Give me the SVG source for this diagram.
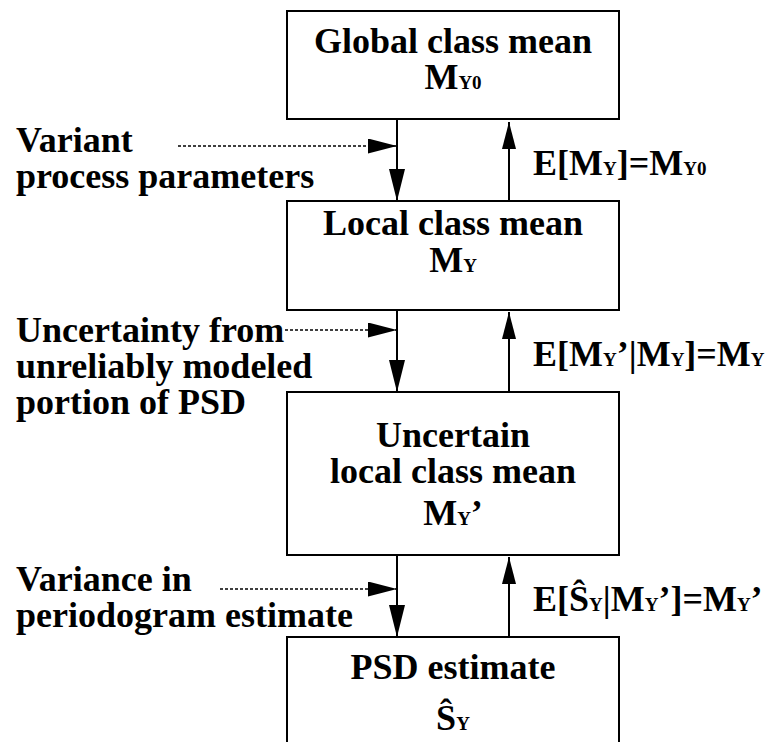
<svg xmlns="http://www.w3.org/2000/svg" width="780" height="742" viewBox="0 0 780 742">
  <style>
    .box { fill: #ffffff; stroke: #000000; stroke-width: 2; }
    .t { font-family: "Liberation Serif", "Times New Roman", serif; font-weight: 700; font-size: 36px; fill: #000000; }
    .c { text-anchor: middle; }
    .sub { font-size: 19px; }
    .solid { stroke: #000000; stroke-width: 2; fill: none; }
    .dot { stroke: #000000; stroke-width: 1.5; stroke-dasharray: 3 2; fill: none; }
  </style>
  <defs>
    <marker id="headDown" viewBox="0 0 32 16" refX="32" refY="8" markerWidth="32" markerHeight="16" markerUnits="userSpaceOnUse" orient="auto">
      <path d="M0,0 L32,8 L0,16 Z" fill="#000000"/>
    </marker>
    <marker id="headUp" viewBox="0 0 27 14" refX="27" refY="7" markerWidth="27" markerHeight="14" markerUnits="userSpaceOnUse" orient="auto">
      <path d="M0,0 L27,7 L0,14 Z" fill="#000000"/>
    </marker>
    <marker id="headSide" viewBox="0 0 29 15" refX="29" refY="7.5" markerWidth="29" markerHeight="15" markerUnits="userSpaceOnUse" orient="auto">
      <path d="M0,0 L29,7.5 L0,15 Z" fill="#000000"/>
    </marker>
  </defs>

  <g id="connectors">
    <line class="solid" x1="397" y1="120" x2="397" y2="201" marker-end="url(#headDown)"/>
    <line class="solid" x1="509" y1="201" x2="509" y2="122" marker-end="url(#headUp)"/>
    <line class="dot" x1="178" y1="146" x2="397" y2="146" marker-end="url(#headSide)"/>

    <line class="solid" x1="397" y1="310" x2="397" y2="392" marker-end="url(#headDown)"/>
    <line class="solid" x1="509" y1="392" x2="509" y2="312" marker-end="url(#headUp)"/>
    <line class="dot" x1="285" y1="330" x2="397" y2="330" marker-end="url(#headSide)"/>

    <line class="solid" x1="397" y1="555" x2="397" y2="637" marker-end="url(#headDown)"/>
    <line class="solid" x1="509" y1="637" x2="509" y2="557" marker-end="url(#headUp)"/>
    <line class="dot" x1="220" y1="589" x2="397" y2="589" marker-end="url(#headSide)"/>
  </g>

  <g id="node-global">
    <rect class="box" x="287" y="11" width="332" height="108"/>
    <text class="t c" x="453" y="53">Global class mean<tspan x="453" y="89">M</tspan><tspan class="sub">Y0</tspan></text>
  </g>

  <g id="node-local">
    <rect class="box" x="287" y="201" width="332" height="109"/>
    <text class="t c" x="453" y="235">Local class mean<tspan x="453" y="272">M</tspan><tspan class="sub">Y</tspan></text>
  </g>

  <g id="node-uncertain">
    <rect class="box" x="287" y="392" width="332" height="163"/>
    <text class="t c" x="453" y="447">Uncertain<tspan x="453" y="483">local class mean</tspan><tspan x="453" y="525">M</tspan><tspan class="sub">Y</tspan>’</text>
  </g>

  <g id="node-psd">
    <rect class="box" x="287" y="637" width="332" height="130"/>
    <text class="t c" x="453" y="679">PSD estimate<tspan x="453" y="730">Ŝ</tspan><tspan class="sub">Y</tspan></text>
  </g>

  <g id="labels-left">
    <text class="t" x="16" y="152">Variant<tspan x="16" y="188">process parameters</tspan></text>
    <text class="t" x="16" y="342">Uncertainty from<tspan x="16" y="378">unreliably modeled</tspan><tspan x="16" y="414">portion of PSD</tspan></text>
    <text class="t" x="16" y="591">Variance in<tspan x="16" y="627">periodogram estimate</tspan></text>
  </g>

  <g id="labels-right">
    <text class="t" x="533" y="175">E[M<tspan class="sub">Y</tspan>]=M<tspan class="sub">Y0</tspan></text>
    <text class="t" x="533" y="366">E[M<tspan class="sub">Y</tspan>’|M<tspan class="sub">Y</tspan>]=M<tspan class="sub">Y</tspan></text>
    <text class="t" x="533" y="611">E[Ŝ<tspan class="sub">Y</tspan>|M<tspan class="sub">Y</tspan>’]=M<tspan class="sub">Y</tspan>’</text>
  </g>
</svg>
